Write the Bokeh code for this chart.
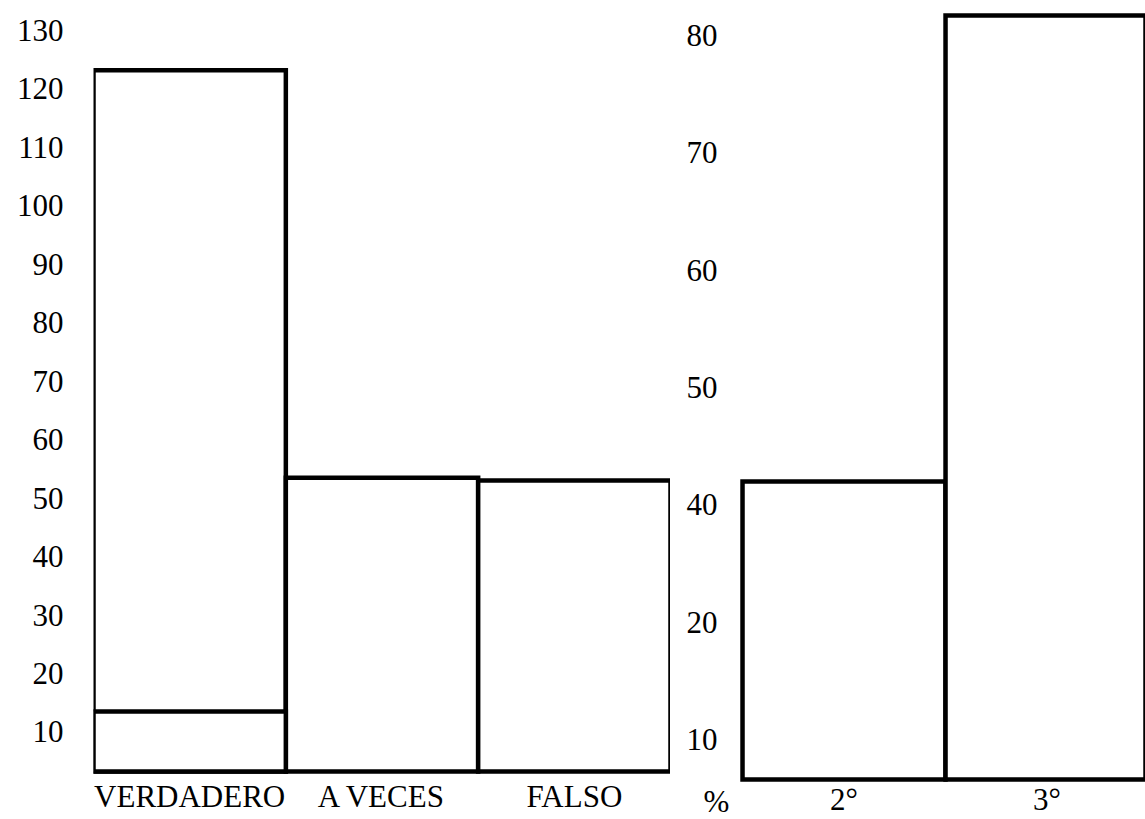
from bokeh.plotting import figure
from bokeh.models import FactorRange, Range1d, FixedTicker, Label
from bokeh.layouts import row
from bokeh.embed import file_html
from bokeh.resources import INLINE

# ---- data ----
left_categories = ["VERDADERO", "A VECES", "FALSO"]
left_values = [123.2, 53.5, 53.0]
left_inner_categories = ["VERDADERO"]
left_inner_values = [13.5]
left_ticks = [10, 20, 30, 40, 50, 60, 70, 80, 90, 100, 110, 120, 130]

right_categories = ["2°", "3°"]
right_values = [42.0, 81.7]
right_tick_positions = [20, 30, 40, 50, 60, 70, 80]
right_tick_labels = ["10", "20", "40", "50", "60", "70", "80"]
right_unit = "%"

# ---- layout / style constants ----
FONT = "Liberation Serif"
FSIZE = "31px"
LW = 4.5
LEFT_BASELINE = 3.23    # value where the left panel's bars stand
RIGHT_BASELINE = 16.6   # value where the right panel's bars stand


def base_style(p):
    p.grid.visible = False
    p.outline_line_color = None
    p.background_fill_color = "white"
    p.border_fill_color = "white"
    for ax in list(p.xaxis) + list(p.yaxis):
        ax.axis_line_color = None
        ax.major_tick_line_color = None
        ax.minor_tick_line_color = None
        ax.major_tick_out = 0
        ax.major_label_text_font = FONT
        ax.major_label_text_font_size = FSIZE
        ax.major_label_text_color = "black"


# ---- left panel ----
p1 = figure(
    x_range=FactorRange(*left_categories),
    y_range=Range1d(-4.12, 133.08),
    width=670, height=819,
    min_border_left=93, min_border_right=0,
    min_border_top=12, min_border_bottom=4,
    toolbar_location=None, output_backend="svg",
)
p1.vbar(x=left_categories, top=left_values, bottom=LEFT_BASELINE, width=1.0,
        fill_color="white", line_color="black", line_width=LW, line_join="miter")
p1.vbar(x=left_inner_categories, top=left_inner_values, bottom=LEFT_BASELINE, width=1.0,
        fill_color="white", line_color="black", line_width=LW, line_join="miter")
base_style(p1)
p1.yaxis.ticker = FixedTicker(ticks=left_ticks)
p1.yaxis.major_label_standoff = 30
p1.xaxis.major_label_standoff = -36

# ---- right panel ----
right_x = list(range(len(right_categories)))
p2 = figure(
    x_range=Range1d(-0.707, 1.485),
    y_range=Range1d(13.62, 81.96),
    width=475, height=819,
    min_border_left=30, min_border_right=0,
    min_border_top=12, min_border_bottom=4,
    toolbar_location=None, output_backend="svg",
)
p2.vbar(x=right_x, top=right_values, bottom=RIGHT_BASELINE, width=1.0,
        fill_color="white", line_color="black", line_width=LW, line_join="miter")
base_style(p2)
p2.yaxis.ticker = FixedTicker(ticks=right_tick_positions)
p2.yaxis.major_label_overrides = {t: l for t, l in zip(right_tick_positions, right_tick_labels)}
p2.yaxis.major_label_standoff = -17
p2.xaxis.ticker = FixedTicker(ticks=right_x)
p2.xaxis.major_label_overrides = {i: c for i, c in zip(right_x, right_categories)}
p2.xaxis.major_label_standoff = -33

unit_label = Label(x=-0.692, y=14.72, text=right_unit,
                   text_font=FONT, text_font_size=FSIZE, text_color="black",
                   text_align="left", text_baseline="middle")
p2.add_layout(unit_label)

layout = row(p1, p2)
open("out.html", "w").write(file_html(layout, INLINE))
